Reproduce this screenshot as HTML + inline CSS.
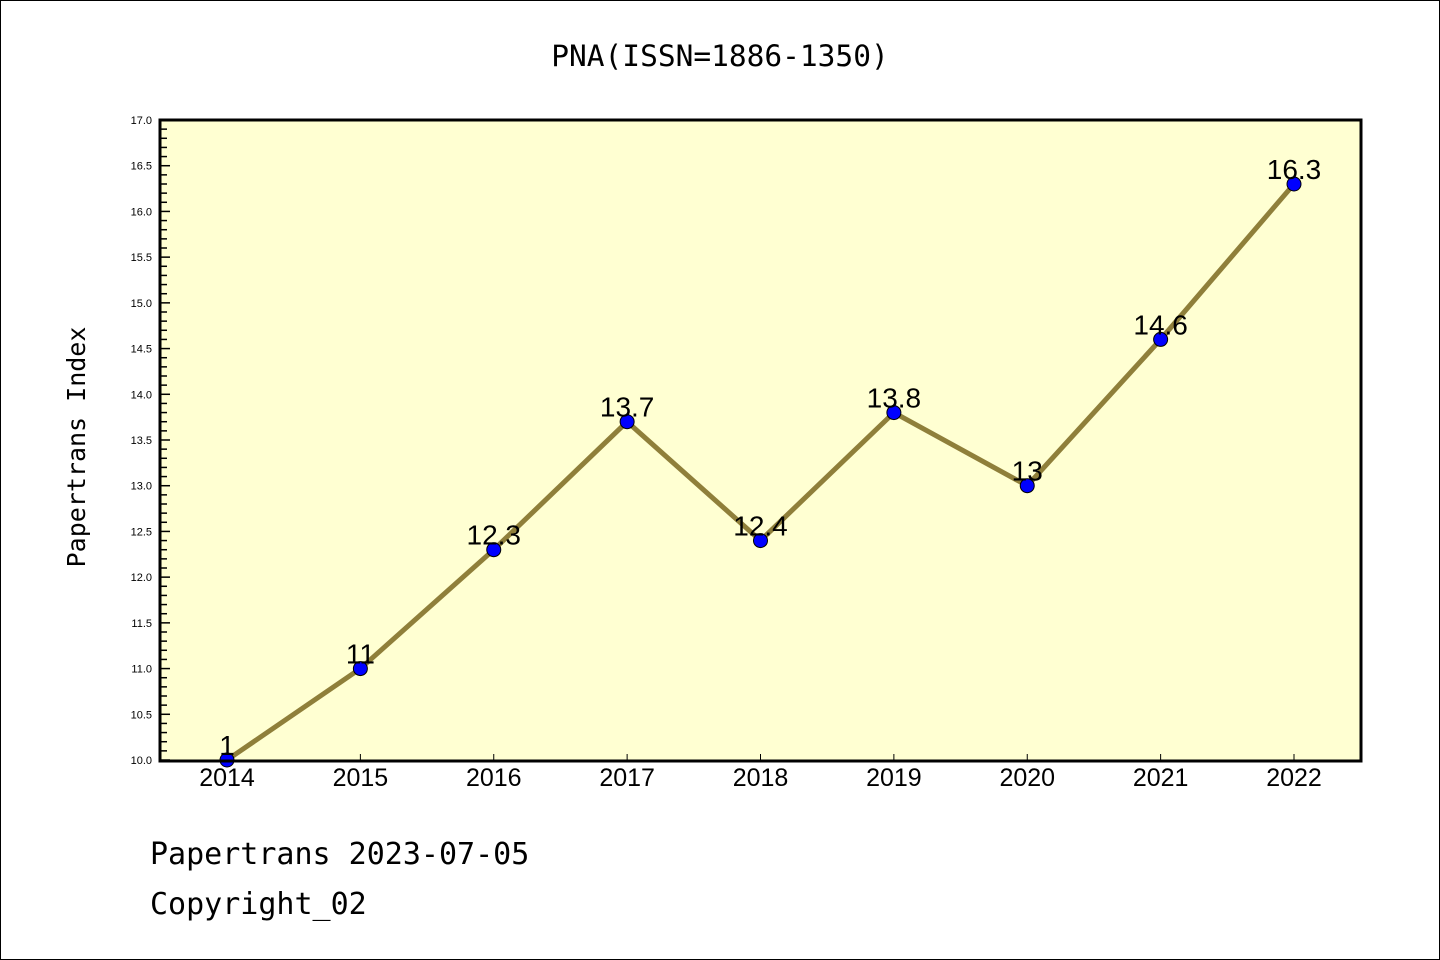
<!DOCTYPE html>
<html><head><meta charset="utf-8"><style>
body{margin:0;background:#fff;}
svg{display:block;font-family:"Liberation Sans","DejaVu Sans",sans-serif;}
</style></head><body>
<svg id="chart" width="1440" height="960">
<rect x="0.5" y="0.5" width="1439" height="959" fill="#fff" stroke="#000"/>
<text x="720" y="66" font-size="29.5" text-anchor="middle" font-family="DejaVu Sans Mono, monospace">PNA(ISSN=1886-1350)</text>
<rect x="160" y="120" width="1201" height="641" fill="#ffffd2"/>
<g id="axes"></g>
<g id="marks"></g>
<rect x="160" y="120" width="1201" height="641" fill="none" stroke="#000" stroke-width="3"/>
<text transform="translate(85,447) rotate(-90)" font-size="25" text-anchor="middle" font-family="DejaVu Sans Mono, monospace">Papertrans Index</text>
<text x="150" y="864" font-size="30" font-family="DejaVu Sans Mono, monospace">Papertrans 2023-07-05</text>
<text x="150" y="914" font-size="30" font-family="DejaVu Sans Mono, monospace">Copyright_02</text>
</svg>
<script>
const years = ["2014","2015","2016","2017","2018","2019","2020","2021","2022"];
const values = [10, 11, 12.3, 13.7, 12.4, 13.8, 13, 14.6, 16.3];
const valueLabels = ["1","11","12.3","13.7","12.4","13.8","13","14.6","16.3"];
const yTicks = [10.0,10.5,11.0,11.5,12.0,12.5,13.0,13.5,14.0,14.5,15.0,15.5,16.0,16.5,17.0];
const NS="http://www.w3.org/2000/svg";
const yMin=10,yMax=17,plotTop=120,plotBottom=760;
function ys(v){return plotBottom-(v-yMin)/(yMax-yMin)*(plotBottom-plotTop);}
function xs(i){return 227+i*(1294-227)/(years.length-1);}
function mk(tag,attrs,parent){const e=document.createElementNS(NS,tag);for(const k in attrs)e.setAttribute(k,attrs[k]);parent.appendChild(e);return e;}
const axes=document.getElementById('axes'), marks=document.getElementById('marks');
for(let k=0;k<=70;k++){
  const v=yMin+k*0.1, y=ys(v), major=k%5===0;
  const t=mk('line',{x1:160,x2:major?170:167,y1:y,y2:y,stroke:'#000','stroke-width':1.5},axes);
  
  
}
yTicks.forEach(v=>{
  const t=mk('text',{x:152,y:ys(v)+4,'font-size':11,'text-anchor':'end'},axes);
  t.textContent=v.toFixed(1);
  
  
});
years.forEach((yr,i)=>{
  const l=mk('line',{x1:xs(i),x2:xs(i),y1:760,y2:754,stroke:'#000','stroke-width':1},axes);
  
  
  const t=mk('text',{x:xs(i),y:786,'font-size':25,'text-anchor':'middle'},axes);
  t.textContent=yr;
  
  
});
const pl=mk('polyline',{points:values.map((v,i)=>xs(i)+','+ys(v)).join(' '),fill:'none',stroke:'#8f7f3a','stroke-width':5},marks);


values.forEach((v,i)=>{
  const c=mk('circle',{cx:xs(i),cy:ys(v),r:7,fill:'#0000ff',stroke:'#000','stroke-width':1},marks);
  
  
  const t=mk('text',{x:xs(i),y:ys(v)-5,'font-size':28,'text-anchor':'middle'},marks);
  t.textContent=valueLabels[i];
  
  
});
</script>
</body></html>
